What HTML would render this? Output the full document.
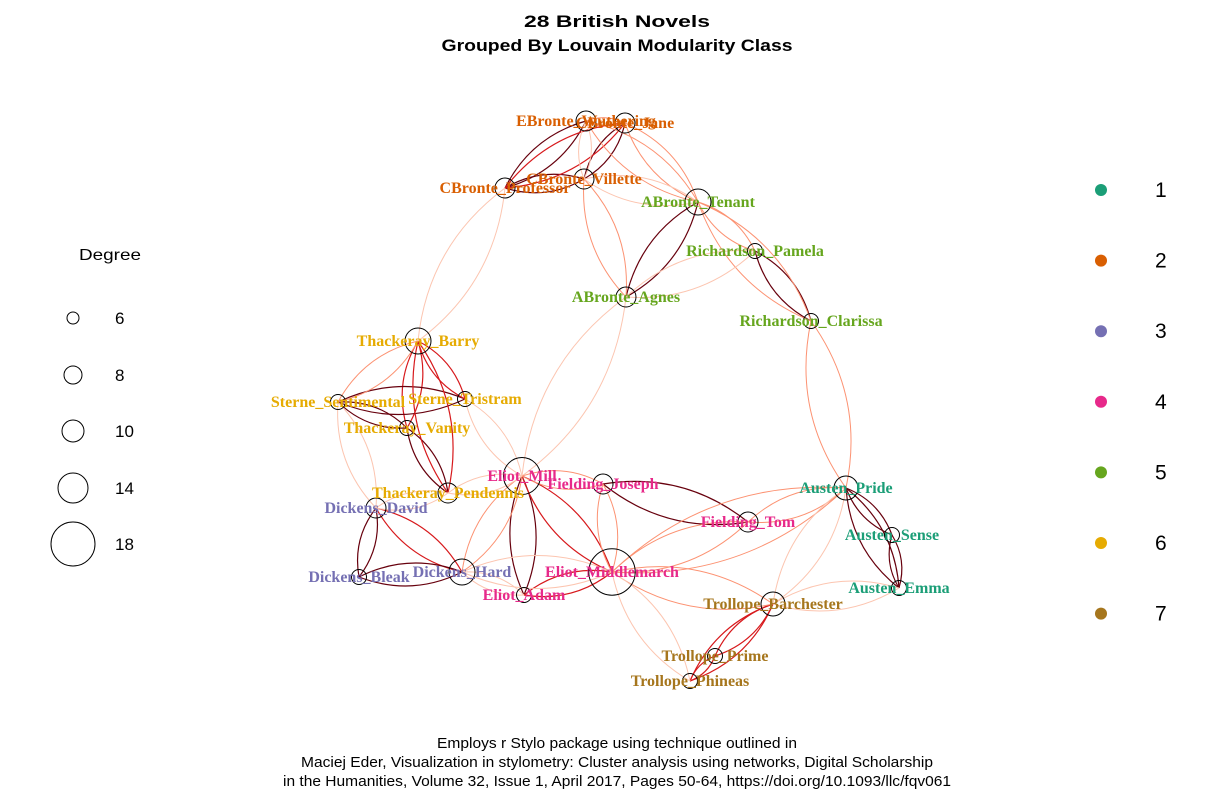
<!DOCTYPE html>
<html><head><meta charset="utf-8"><style>
body{margin:0;background:#fff}
svg text{font-family:"Liberation Sans",sans-serif}
.lbl{font-family:"Liberation Serif",serif;font-weight:bold;font-size:16px}
</style></head><body>
<svg id="c" width="1208" height="805" viewBox="0 0 1208 805">
<g>
<text x="617" y="27" text-anchor="middle" font-size="17" font-weight="bold" textLength="186" lengthAdjust="spacingAndGlyphs">28 British Novels</text>
<text x="617" y="51" text-anchor="middle" font-size="17" font-weight="bold" textLength="351" lengthAdjust="spacingAndGlyphs">Grouped By Louvain Modularity Class</text>
</g>
<g id="edges"></g>
<g id="nodes"></g>
<g id="sizeLegend">
<text x="110" y="260" text-anchor="middle" font-size="16" textLength="62" lengthAdjust="spacingAndGlyphs">Degree</text>
</g>
<g id="colLegend"></g>
<g font-size="15">
<text x="617" y="748" text-anchor="middle" textLength="360" lengthAdjust="spacingAndGlyphs">Employs r Stylo package using technique outlined in</text>
<text x="617" y="767" text-anchor="middle" textLength="632" lengthAdjust="spacingAndGlyphs">Maciej Eder, Visualization in stylometry: Cluster analysis using networks, Digital Scholarship</text>
<text x="617" y="786" text-anchor="middle" textLength="668" lengthAdjust="spacingAndGlyphs">in the Humanities, Volume 32, Issue 1, April 2017, Pages 50-64, https://doi.org/10.1093/llc/fqv061</text>
</g>
</svg>
<script>
const names=["EBronte_Wuthering","CBronte_Jane","CBronte_Villette","CBronte_Professor","ABronte_Tenant","ABronte_Agnes","Richardson_Pamela","Richardson_Clarissa","Thackeray_Barry","Sterne_Sentimental","Sterne_Tristram","Thackeray_Vanity","Eliot_Mill","Fielding_Joseph","Thackeray_Pendennis","Dickens_David","Fielding_Tom","Austen_Pride","Austen_Sense","Austen_Emma","Dickens_Bleak","Dickens_Hard","Eliot_Middlemarch","Eliot_Adam","Trollope_Barchester","Trollope_Prime","Trollope_Phineas"];
const layoutX=[586,625,584,505,698,626,755,811,418,338,465,407,522,603,448,376,748,846,892,899,359,462,612,524,773,715,690];
const layoutY=[121,123,179,188,202,297,251,321,341,402,399,428,476,484,493,508,522,488,535,588,577,572,572,595,604,656,681];
const degree=[9,9,9,9,12,9,7,7,12,7,7,7,16,9,9,9,9,11,7,7,7,12,19,7,11,7,7];
const group=[2,2,2,2,5,5,5,5,6,6,6,6,4,4,6,3,4,1,1,1,3,3,4,4,7,7,7];
const edgeFrom=["EBronte_Wuthering","CBronte_Jane","CBronte_Villette","ABronte_Tenant","Richardson_Pamela","Thackeray_Barry","Sterne_Sentimental","Sterne_Sentimental","Thackeray_Vanity","Thackeray_Barry","Thackeray_Barry","Dickens_David","Dickens_David","Dickens_Bleak","Eliot_Mill","Eliot_Mill","Eliot_Middlemarch","Fielding_Joseph","Austen_Pride","Austen_Pride","Austen_Sense","Trollope_Barchester","Trollope_Barchester","Trollope_Prime","EBronte_Wuthering","CBronte_Professor","EBronte_Wuthering","CBronte_Jane","EBronte_Wuthering","CBronte_Villette","CBronte_Villette","ABronte_Tenant","ABronte_Tenant","ABronte_Agnes","Richardson_Clarissa","CBronte_Professor","ABronte_Agnes","Eliot_Mill","Fielding_Joseph","Eliot_Mill","Thackeray_Pendennis","Sterne_Tristram","Eliot_Middlemarch","Eliot_Middlemarch","Eliot_Middlemarch","Eliot_Middlemarch","Fielding_Tom","Trollope_Barchester","Trollope_Barchester","Dickens_Hard","Thackeray_Pendennis","Sterne_Sentimental","Sterne_Sentimental","Eliot_Adam"];
const edgeTo=["CBronte_Professor","CBronte_Villette","CBronte_Professor","ABronte_Agnes","Richardson_Clarissa","Thackeray_Vanity","Sterne_Tristram","Thackeray_Vanity","Thackeray_Pendennis","Thackeray_Pendennis","Sterne_Tristram","Dickens_Bleak","Dickens_Hard","Dickens_Hard","Eliot_Adam","Eliot_Middlemarch","Eliot_Adam","Fielding_Tom","Austen_Sense","Austen_Emma","Austen_Emma","Trollope_Prime","Trollope_Phineas","Trollope_Phineas","CBronte_Jane","CBronte_Jane","CBronte_Villette","ABronte_Tenant","ABronte_Tenant","ABronte_Agnes","ABronte_Tenant","Richardson_Pamela","Richardson_Clarissa","Richardson_Pamela","Austen_Pride","Thackeray_Barry","Eliot_Mill","Fielding_Joseph","Eliot_Middlemarch","Dickens_Hard","Eliot_Mill","Eliot_Mill","Fielding_Tom","Austen_Pride","Trollope_Barchester","Trollope_Phineas","Austen_Pride","Austen_Pride","Austen_Emma","Eliot_Middlemarch","Dickens_David","Dickens_David","Thackeray_Barry","Dickens_Hard"];
const edgeWeight=[4,4,4,4,4,3,4,4,4,3,3,4,3,4,4,3,3,4,4,4,4,3,3,3,2,3,1,2,2,2,1,2,2,1,2,1,1,2,2,2,1,1,2,2,2,1,2,1,1,1,1,1,2,1];
const classes=["1","2","3","4","5","6","7"];
const classColors=["#1b9e77","#d95f02","#7570b3","#e7298a","#66a61e","#e6ab02","#a6761d"];
const legendDegrees=[6,8,10,14,18];
const legendRadius=[6,9,11,15,22];
const weightColors=["#fcc5b0","#fc9272","#d7191c","#67000d"];
const NS="http://www.w3.org/2000/svg";
function rScale(d){for(let i=0;i<legendDegrees.length-1;i++){if(d<=legendDegrees[i+1]){const t=(d-legendDegrees[i])/(legendDegrees[i+1]-legendDegrees[i]);return legendRadius[i]+t*(legendRadius[i+1]-legendRadius[i]);}}return legendRadius[legendRadius.length-1]+(d-18)*1.2;}
function mk(t,a,p){const e=document.createElementNS(NS,t);for(const k in a)e.setAttribute(k,a[k]);p.appendChild(e);return e;}
const eg=document.getElementById('edges');
edgeFrom.forEach((f,i)=>{const a=names.indexOf(f),b=names.indexOf(edgeTo[i]);
 const x1=layoutX[a],y1=layoutY[a],x2=layoutX[b],y2=layoutY[b];
 const dx=x2-x1,dy=y2-y1,mx=(x1+x2)/2,my=(y1+y2)/2;
 [0.22,-0.22].forEach(k=>{
  const p=mk('path',{d:`M${x1},${y1} Q${mx-dy*k},${my+dx*k} ${x2},${y2}`,fill:'none',stroke:weightColors[edgeWeight[i]-1],'stroke-width':edgeWeight[i]>2?1.2:1},eg);
  
  
 });
});
const ng=document.getElementById('nodes');
names.forEach((n,i)=>{
 const c=mk('circle',{cx:layoutX[i],cy:layoutY[i],r:rScale(degree[i]),fill:'none',stroke:'#000','stroke-width':1},ng);
 
 
});
names.forEach((n,i)=>{
 const t=mk('text',{x:layoutX[i],y:layoutY[i]+5,'text-anchor':'middle',class:'lbl',fill:classColors[group[i]-1]},ng);
 t.textContent=n;
 
 
});
const sl=document.getElementById('sizeLegend');
const sly=[318,375,431,488,544];
legendDegrees.forEach((d,i)=>{
 const c=mk('circle',{cx:73,cy:sly[i],r:rScale(d),fill:'none',stroke:'#000'},sl);
 
 
 const t=mk('text',{x:115,y:sly[i]+6,'font-size':17},sl);t.textContent=d;
 
 
});
const cl=document.getElementById('colLegend');
classes.forEach((c,i)=>{const y=190+i*70.6;
 const d=mk('circle',{cx:1101,cy:y,r:6,fill:classColors[i]},cl);
 
 
 const t=mk('text',{x:1155,y:y+7,'font-size':21},cl);t.textContent=c;
 
 
});
</script>
</body></html>
